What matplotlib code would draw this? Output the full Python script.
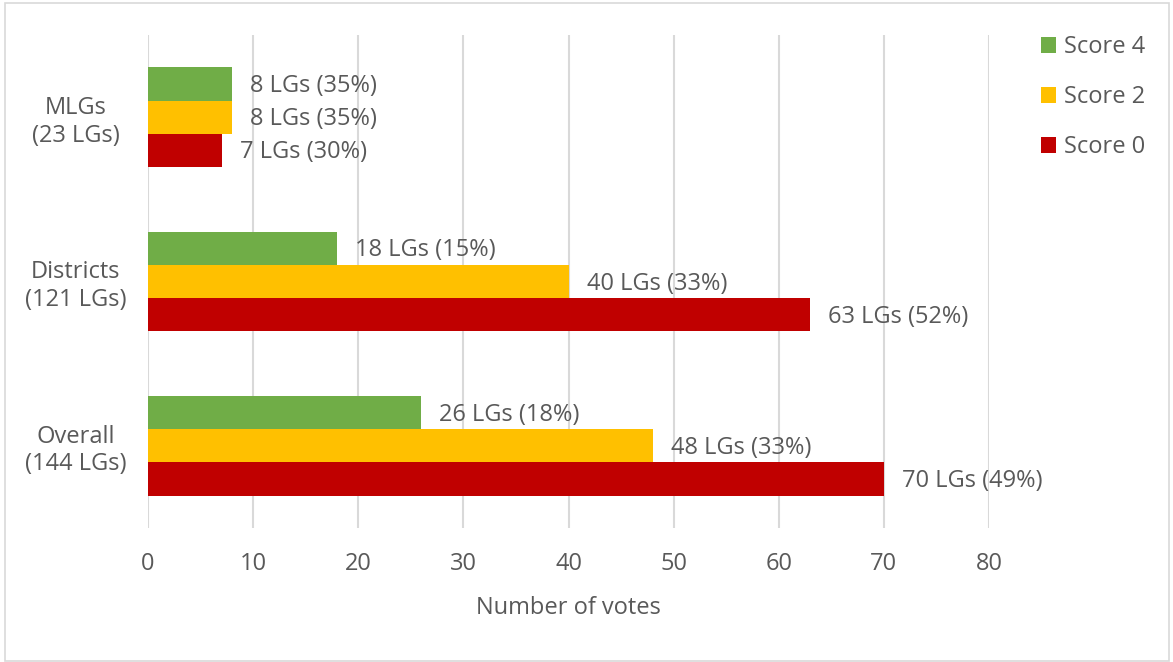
import numpy as np
import matplotlib
matplotlib.use("Agg")
import matplotlib.pyplot as plt
from matplotlib.patches import Rectangle

plt.rcParams['font.family'] = ['Open Sans', 'DejaVu Sans']

# data (bottom to top, like the Excel category axis)
categories = ['Overall\n(144 LGs)', 'Districts\n(121 LGs)', 'MLGs\n(23 LGs)']
score0 = [70, 63, 7]
score2 = [48, 40, 8]
score4 = [26, 18, 8]
pct0 = [49, 52, 30]
pct2 = [33, 33, 35]
pct4 = [18, 15, 35]
xticks = [0, 10, 20, 30, 40, 50, 60, 70, 80]

red = '#C00000'
yellow = '#FFC000'
green = '#70AD47'
txt = '#595959'
grid = '#D9D9D9'
fs = 17

fig = plt.figure(figsize=(11.73, 6.62), dpi=100)
ax = fig.add_axes([148 / 1173, 1 - 528 / 662, (989 - 148) / 1173, (528 - 35) / 662])

y = np.arange(len(categories))
h = 0.202
series = [(score0, pct0, red, 'Score 0', -h),
          (score2, pct2, yellow, 'Score 2', 0),
          (score4, pct4, green, 'Score 4', h)]
handles = {}
for vals, pcts, col, name, off in series:
    bars = ax.barh(y + off, vals, height=h, color=col, label=name, zorder=3)
    handles[name] = bars
    for v, p, yy in zip(vals, pcts, y + off):
        ax.annotate(f'{v} LGs ({p}%)', xy=(v, yy), xytext=(13, -1.5),
                    textcoords='offset points', va='center', ha='left',
                    fontsize=fs, color=txt, zorder=4)

ax.set_xlim(0, 80)
ax.set_ylim(-0.5, 2.5)
ax.set_xticks(xticks)
ax.set_yticks(y)
ax.set_yticklabels(categories, ha='center', multialignment='center')
ax.tick_params(axis='y', length=0, pad=52, labelsize=fs, labelcolor=txt)
ax.tick_params(axis='x', length=0, pad=17, labelsize=fs, labelcolor=txt)
ax.xaxis.grid(True, color=grid, linewidth=1.5, zorder=0)
ax.set_axisbelow(True)
for s in ax.spines.values():
    s.set_visible(False)
ax.set_xlabel('Number of votes', fontsize=fs, color=txt, labelpad=15)

fig.legend([handles['Score 4'], handles['Score 2'], handles['Score 0']],
           ['Score 4', 'Score 2', 'Score 0'],
           loc='upper left', bbox_to_anchor=(1032 / 1173, 1 - 26 / 662),
           frameon=False, fontsize=fs, labelcolor=txt,
           handlelength=0.62, handleheight=0.62, handletextpad=0.35,
           labelspacing=1.1, borderaxespad=0)

fig.patches.append(Rectangle((5 / 1173, 1 / 662), 1164 / 1173, 658 / 662,
                             transform=fig.transFigure, fill=False,
                             edgecolor=grid, linewidth=1.2))

fig.savefig('out.png', dpi=100)
